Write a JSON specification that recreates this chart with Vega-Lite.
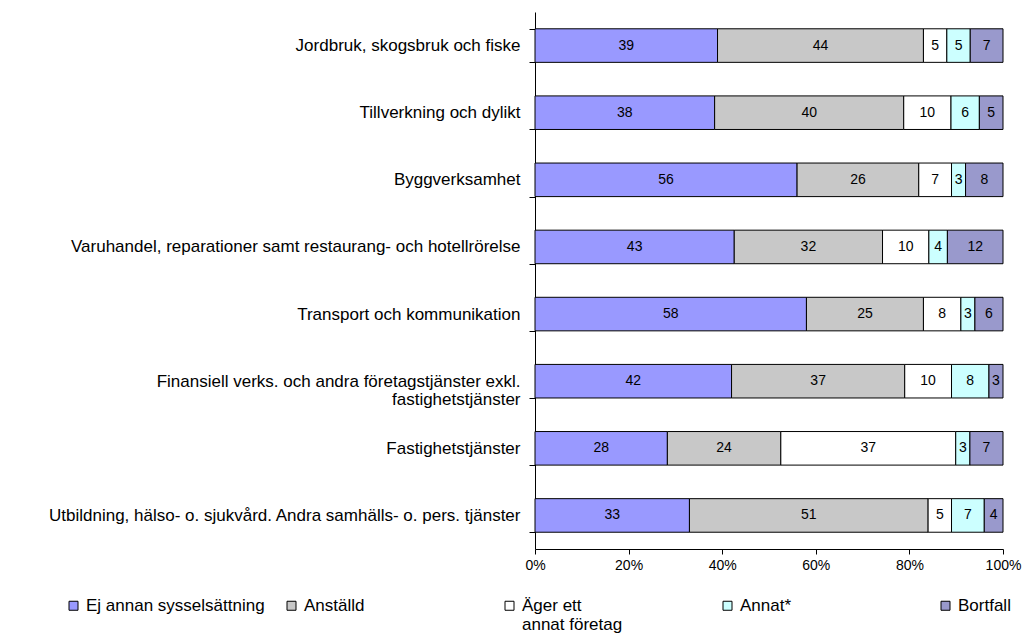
{
  "$schema": "https://vega.github.io/schema/vega-lite/v6.json",
  "autosize": {"type": "none"},
  "padding": {"left": 535, "top": 12, "right": 20, "bottom": 88},
  "width": 468,
  "height": 537,
  "background": "white",
  "config": {"view": {"stroke": null}, "font": "Liberation Sans"},
  "datasets": {
    "d": [
      {"cat": "Jordbruk, skogsbruk och fiske", "k": 1, "serie": "Ej annan sysselsättning", "v": 39},
      {"cat": "Jordbruk, skogsbruk och fiske", "k": 2, "serie": "Anställd", "v": 44},
      {"cat": "Jordbruk, skogsbruk och fiske", "k": 3, "serie": "Äger ett|annat företag", "v": 5},
      {"cat": "Jordbruk, skogsbruk och fiske", "k": 4, "serie": "Annat*", "v": 5},
      {"cat": "Jordbruk, skogsbruk och fiske", "k": 5, "serie": "Bortfall", "v": 7},
      {"cat": "Tillverkning och dylikt", "k": 1, "serie": "Ej annan sysselsättning", "v": 38},
      {"cat": "Tillverkning och dylikt", "k": 2, "serie": "Anställd", "v": 40},
      {"cat": "Tillverkning och dylikt", "k": 3, "serie": "Äger ett|annat företag", "v": 10},
      {"cat": "Tillverkning och dylikt", "k": 4, "serie": "Annat*", "v": 6},
      {"cat": "Tillverkning och dylikt", "k": 5, "serie": "Bortfall", "v": 5},
      {"cat": "Byggverksamhet", "k": 1, "serie": "Ej annan sysselsättning", "v": 56},
      {"cat": "Byggverksamhet", "k": 2, "serie": "Anställd", "v": 26},
      {"cat": "Byggverksamhet", "k": 3, "serie": "Äger ett|annat företag", "v": 7},
      {"cat": "Byggverksamhet", "k": 4, "serie": "Annat*", "v": 3},
      {"cat": "Byggverksamhet", "k": 5, "serie": "Bortfall", "v": 8},
      {"cat": "Varuhandel, reparationer samt restaurang- och hotellrörelse", "k": 1, "serie": "Ej annan sysselsättning", "v": 43},
      {"cat": "Varuhandel, reparationer samt restaurang- och hotellrörelse", "k": 2, "serie": "Anställd", "v": 32},
      {"cat": "Varuhandel, reparationer samt restaurang- och hotellrörelse", "k": 3, "serie": "Äger ett|annat företag", "v": 10},
      {"cat": "Varuhandel, reparationer samt restaurang- och hotellrörelse", "k": 4, "serie": "Annat*", "v": 4},
      {"cat": "Varuhandel, reparationer samt restaurang- och hotellrörelse", "k": 5, "serie": "Bortfall", "v": 12},
      {"cat": "Transport och kommunikation", "k": 1, "serie": "Ej annan sysselsättning", "v": 58},
      {"cat": "Transport och kommunikation", "k": 2, "serie": "Anställd", "v": 25},
      {"cat": "Transport och kommunikation", "k": 3, "serie": "Äger ett|annat företag", "v": 8},
      {"cat": "Transport och kommunikation", "k": 4, "serie": "Annat*", "v": 3},
      {"cat": "Transport och kommunikation", "k": 5, "serie": "Bortfall", "v": 6},
      {"cat": "Finansiell verks. och andra företagstjänster exkl.|fastighetstjänster", "k": 1, "serie": "Ej annan sysselsättning", "v": 42},
      {"cat": "Finansiell verks. och andra företagstjänster exkl.|fastighetstjänster", "k": 2, "serie": "Anställd", "v": 37},
      {"cat": "Finansiell verks. och andra företagstjänster exkl.|fastighetstjänster", "k": 3, "serie": "Äger ett|annat företag", "v": 10},
      {"cat": "Finansiell verks. och andra företagstjänster exkl.|fastighetstjänster", "k": 4, "serie": "Annat*", "v": 8},
      {"cat": "Finansiell verks. och andra företagstjänster exkl.|fastighetstjänster", "k": 5, "serie": "Bortfall", "v": 3},
      {"cat": "Fastighetstjänster", "k": 1, "serie": "Ej annan sysselsättning", "v": 28},
      {"cat": "Fastighetstjänster", "k": 2, "serie": "Anställd", "v": 24},
      {"cat": "Fastighetstjänster", "k": 3, "serie": "Äger ett|annat företag", "v": 37},
      {"cat": "Fastighetstjänster", "k": 4, "serie": "Annat*", "v": 3},
      {"cat": "Fastighetstjänster", "k": 5, "serie": "Bortfall", "v": 7},
      {"cat": "Utbildning, hälso- o. sjukvård. Andra samhälls- o. pers. tjänster", "k": 1, "serie": "Ej annan sysselsättning", "v": 33},
      {"cat": "Utbildning, hälso- o. sjukvård. Andra samhälls- o. pers. tjänster", "k": 2, "serie": "Anställd", "v": 51},
      {"cat": "Utbildning, hälso- o. sjukvård. Andra samhälls- o. pers. tjänster", "k": 3, "serie": "Äger ett|annat företag", "v": 5},
      {"cat": "Utbildning, hälso- o. sjukvård. Andra samhälls- o. pers. tjänster", "k": 4, "serie": "Annat*", "v": 7},
      {"cat": "Utbildning, hälso- o. sjukvård. Andra samhälls- o. pers. tjänster", "k": 5, "serie": "Bortfall", "v": 4}
    ]
  },
  "data": {"name": "d"},
  "transform": [
    {"stack": "v", "groupby": ["cat"], "sort": [{"field": "k", "order": "ascending"}], "offset": "normalize", "as": ["s0", "s1"]},
    {"calculate": "(datum.s0 + datum.s1) / 2", "as": "mid"}
  ],
  "encoding": {
    "y": {
      "field": "cat",
      "type": "nominal",
      "sort": null,
      "scale": {"paddingInner": 0.5, "paddingOuter": 0.25},
      "axis": {
        "title": null,
        "domainColor": "black",
        "tickColor": "black",
        "tickSize": 6,
        "tickBand": "extent",
        "labelFontSize": 17,
        "labelColor": "black",
        "labelPadding": 9,
        "labelLimit": 600,
        "labelLineHeight": 18,
        "labelExpr": "split(datum.label, '|')"
      }
    }
  },
  "layer": [
    {
      "mark": {"type": "bar", "stroke": "black", "strokeWidth": 1},
      "encoding": {
        "x": {
          "field": "s0",
          "type": "quantitative",
          "scale": {"domain": [0, 1]},
          "axis": {
            "title": null,
            "format": "%",
            "values": [0, 0.2, 0.4, 0.6, 0.8, 1],
            "grid": false,
            "domainColor": "black",
            "tickColor": "black",
            "tickSize": 5,
            "labelFontSize": 14,
            "labelColor": "black",
            "labelFlush": false,
            "labelPadding": 4
          }
        },
        "x2": {"field": "s1"},
        "color": {
          "field": "serie",
          "type": "nominal",
          "sort": ["Ej annan sysselsättning", "Anställd", "Äger ett|annat företag", "Annat*", "Bortfall"],
          "scale": {
            "domain": ["Ej annan sysselsättning", "Anställd", "Äger ett|annat företag", "Annat*", "Bortfall"],
            "range": ["#9999FF", "#C8C8C8", "#FFFFFF", "#CCFFFF", "#9999CC"]
          },
          "legend": {
            "title": null,
            "orient": "none",
            "legendX": -470,
            "legendY": 585,
            "direction": "horizontal",
            "columns": 5,
            "gridAlign": "all",
            "columnPadding": 18,
            "symbolType": "square",
            "symbolSize": 81,
            "symbolStrokeColor": "black",
            "symbolStrokeWidth": 1,
            "symbolOpacity": 1,
            "labelFontSize": 17,
            "labelColor": "black",
            "labelOffset": 4,
            "labelLimit": 400,
            "labelLineHeight": 21,
            "labelExpr": "split(indexof(datum.label, '|') >= 0 ? datum.label : datum.label + '| ', '|')"
          }
        }
      }
    },
    {
      "mark": {"type": "text", "fontSize": 14, "color": "black", "align": "center", "baseline": "middle"},
      "encoding": {
        "x": {"field": "mid", "type": "quantitative"},
        "text": {"field": "v", "type": "quantitative"}
      }
    }
  ]
}
